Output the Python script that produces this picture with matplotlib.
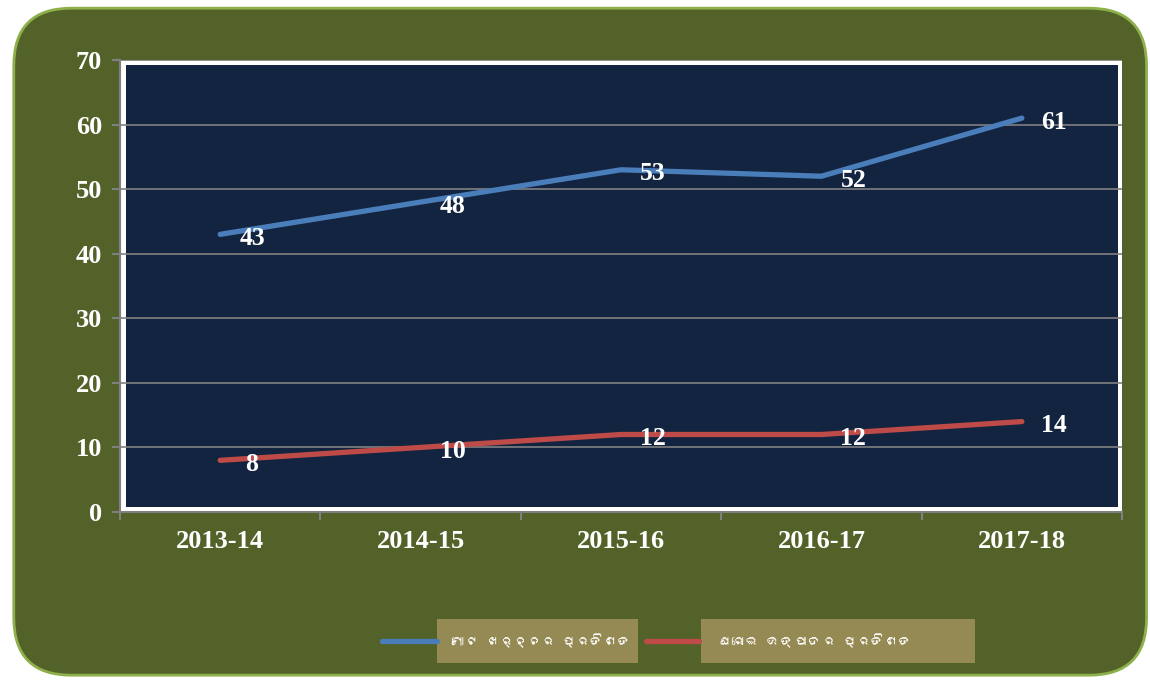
import numpy as np
import matplotlib.pyplot as plt
from matplotlib import font_manager
from matplotlib.ft2font import FT2Font
from matplotlib.patches import FancyBboxPatch, Rectangle
from matplotlib.lines import Line2D

# Datos
anios = ['2013-14', '2014-15', '2015-16', '2016-17', '2017-18']
gasto_total = [43, 48, 53, 52, 61]
produccion = [8, 10, 12, 12, 14]
nombres = ['ମୋଟ ଖର୍ଚ୍ଚର ପ୍ରତିଶତ', 'ଘରୋଇ ଉତ୍ପାଦର ପ୍ରତିଶତ']

azul = '#4a7ebb'
rojo = '#be4b48'
verde = '#536229'
navy = '#12243f'
caja = '#968a54'
serif = ['Liberation Serif', 'DejaVu Serif']

# buscar alguna fuente instalada con letras odia
fuente = []
for f in font_manager.fontManager.ttflist:
    try:
        if 0x0B2E in FT2Font(f.fname).get_charmap() and f.name not in fuente:
            fuente.append(f.name)
    except Exception:
        pass
fuente = fuente + ['Noto Sans', 'DejaVu Sans']

fig = plt.figure(figsize=(11.5, 6.82), dpi=100)
fig.patch.set_facecolor('white')

# fondo verde redondeado
fondo = FancyBboxPatch((0.012, 0.01), 0.985, 0.978,
                       boxstyle='round,pad=0,rounding_size=0.05',
                       transform=fig.transFigure, facecolor=verde,
                       edgecolor='#8db04a', linewidth=2, zorder=-5,
                       mutation_aspect=1150/682)
fig.add_artist(fondo)

ax = fig.add_axes([0.1043, 0.2493, 0.8714, 0.6627])
ax.set_facecolor('white')
ax.add_patch(Rectangle((0.006, 0.01), 0.99, 0.98, transform=ax.transAxes,
                       facecolor=navy, edgecolor='none', zorder=0))

x = np.arange(len(anios))
ax.plot(x, gasto_total, color=azul, linewidth=3.8, solid_capstyle='round', zorder=3)
ax.plot(x, produccion, color=rojo, linewidth=3.8, solid_capstyle='round', zorder=3)

for serie in (gasto_total, produccion):
    for xi, v in zip(x, serie):
        ax.annotate(str(v), (xi, v), xytext=(23, -3), textcoords='offset points',
                    ha='center', va='center', color='white', fontsize=18.5,
                    fontweight='bold', family=serif, zorder=4)

ax.set_xlim(-0.5, 4.5)
ax.set_ylim(0, 70)
ax.set_yticks(np.arange(0, 71, 10))
ax.set_xticks(np.arange(-0.5, 4.6, 1))
ax.set_xticklabels([])
ax.set_xticks(x, minor=True)
ax.set_xticklabels(anios, minor=True)
ax.tick_params(axis='x', which='minor', length=0, pad=13)
ax.tick_params(axis='x', which='major', length=6, color='#808080', width=1.5)
ax.tick_params(axis='y', length=6, color='#808080', width=1.5, pad=7)
for lab in ax.get_xticklabels(minor=True) + ax.get_yticklabels():
    lab.set_color('white')
    lab.set_fontsize(19)
    lab.set_fontweight('bold')
    lab.set_family(serif)

ax.grid(axis='y', color='#808080', linewidth=1.2, zorder=1)
ax.set_axisbelow(True)
for s in ('top', 'right'):
    ax.spines[s].set_visible(False)
for s in ('left', 'bottom'):
    ax.spines[s].set_color('#808080')
    ax.spines[s].set_linewidth(1.5)

# leyenda manual
yl = 0.0601
fig.add_artist(Line2D([0.332, 0.38], [yl, yl], color=azul, linewidth=3.8,
                      solid_capstyle='round', transform=fig.transFigure))
fig.add_artist(Line2D([0.562, 0.608], [yl, yl], color=rojo, linewidth=3.8,
                      solid_capstyle='round', transform=fig.transFigure))
fig.add_artist(Rectangle((0.38, 0.0279), 0.1748, 0.0645, transform=fig.transFigure,
                         facecolor=caja, edgecolor='none'))
fig.add_artist(Rectangle((0.6096, 0.0279), 0.2383, 0.0645, transform=fig.transFigure,
                         facecolor=caja, edgecolor='none'))
fig.text(0.392, yl, nombres[0], color='white', fontsize=10, fontweight='bold',
         family=fuente, ha='left', va='center')
fig.text(0.624, yl, nombres[1], color='white', fontsize=10, fontweight='bold',
         family=fuente, ha='left', va='center')

fig.savefig('out.png', dpi=100, facecolor=fig.get_facecolor())
